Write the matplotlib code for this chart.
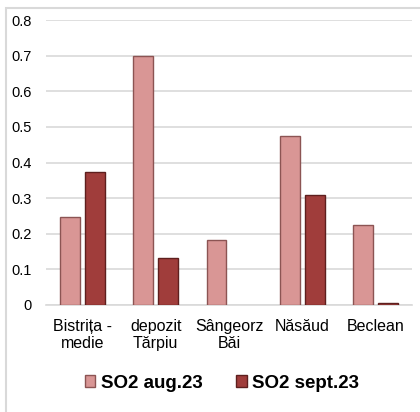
import matplotlib.pyplot as plt
import matplotlib.patches as mpatches
import numpy as np

plt.rcParams['font.family'] = ['Liberation Sans', 'DejaVu Sans']

# date
categorii = ['Bistrița -\nmedie', 'depozit\nTărpiu', 'Sângeorz\nBăi', 'Năsăud', 'Beclean']
so2_aug = [0.247, 0.70, 0.183, 0.474, 0.224]
so2_sept = [0.372, 0.133, 0.0, 0.308, 0.006]
serii = ['SO2 aug.23', 'SO2 sept.23']
yticks = [0, 0.1, 0.2, 0.3, 0.4, 0.5, 0.6, 0.7, 0.8]

culoare_aug = '#D99695'
margine_aug = '#8C5453'
culoare_sept = '#A03D3B'
margine_sept = '#5E1F1E'

fig = plt.figure(figsize=(4.2, 4.12), dpi=100)
ax = fig.add_axes([46 / 420, 107 / 412, 366 / 420, 285 / 412])

x = np.arange(len(categorii))
w = 0.27
off = 0.17
ax.bar(x - off, so2_aug, w, color=culoare_aug, edgecolor=margine_aug,
       linewidth=[1.0 if v > 0 else 0 for v in so2_aug], zorder=3, label=serii[0])
ax.bar(x + off, so2_sept, w, color=culoare_sept, edgecolor=margine_sept,
       linewidth=[1.0 if v > 0 else 0 for v in so2_sept], zorder=3, label=serii[1])

ax.set_xlim(-0.5, len(categorii) - 0.5)
ax.set_ylim(0, 0.8)
ax.set_yticks(yticks)
ax.set_yticklabels(['0'] + ['%.1f' % v for v in yticks[1:]], fontsize=10.5)
ax.set_xticks(x)
ax.set_xticklabels(categorii, fontsize=11.5, linespacing=1.15)
ax.tick_params(length=0)
ax.tick_params(axis='x', pad=10)
ax.tick_params(axis='y', pad=10)
ax.grid(axis='y', color='#D9D9D9', linewidth=1.2, zorder=0)
for s in ['top', 'right', 'left']:
    ax.spines[s].set_visible(False)
ax.spines['bottom'].set_color('#D9D9D9')
ax.spines['bottom'].set_linewidth(1.2)

# chenarul graficului
fig.add_artist(mpatches.Rectangle((6 / 420, -0.1), 1.2, 0.1 + 404 / 412, transform=fig.transFigure,
                                  fill=False, edgecolor='#D9D9D9', linewidth=1.5))

h = [mpatches.Patch(facecolor=culoare_aug, edgecolor=margine_aug),
     mpatches.Patch(facecolor=culoare_sept, edgecolor=margine_sept)]
fig.legend(h, serii, loc='center', bbox_to_anchor=(222 / 420, 1 - 383 / 412), ncol=2, frameon=False,
           prop={'weight': 'bold', 'size': 13.5}, handlelength=0.55, handleheight=0.55, handletextpad=0.3,
           columnspacing=1.8)

fig.savefig('out.png', dpi=100)
